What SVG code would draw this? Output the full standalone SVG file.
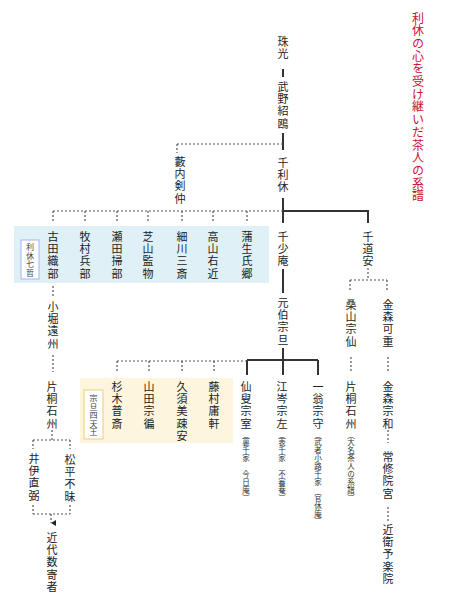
<svg xmlns="http://www.w3.org/2000/svg" width="450" height="600" viewBox="0 0 450 600">
<style>
.v{writing-mode:vertical-rl;font-family:"Noto Sans CJK JP","Noto Sans CJK SC",sans-serif;font-size:11px;fill:#222;letter-spacing:1.4px}
.t{writing-mode:vertical-rl;font-family:"Noto Sans CJK JP",sans-serif;font-size:12px;fill:#c8102e;letter-spacing:0.7px}
.n{writing-mode:vertical-rl;font-family:"Noto Sans CJK JP",sans-serif;font-size:7.5px;fill:#333;letter-spacing:0.4px}
.l{writing-mode:vertical-rl;font-family:"Noto Sans CJK JP",sans-serif;font-size:8px;fill:#444;letter-spacing:0.6px}
.s{stroke:#333;stroke-width:2;fill:none}
.d{stroke:#555;stroke-width:1.2;stroke-dasharray:2 2;fill:none}
</style>
<defs>
<marker id="arr" markerWidth="6" markerHeight="6" refX="3" refY="5" orient="auto-start-reverse" markerUnits="userSpaceOnUse">
<path d="M0,0 L6,0 L3,5 Z" fill="#222"/>
</marker>
</defs>
<rect width="450" height="600" fill="#fff"/>
<g id="title"><text class="t" x="418" y="12">利休の心を受け継いだ茶人の系譜</text></g>
<g id="bg-sevens"><rect x="14" y="226" width="255" height="57" fill="#dff0f6"/>
<rect x="21" y="240" width="18" height="39" fill="#fff" stroke="#a8b4f0" stroke-width="1"/>
<text class="l" x="30" y="243">利休七哲</text></g>
<g id="bg-four"><rect x="80" y="378" width="153" height="65" fill="#fdf5de"/>
<rect x="84" y="390" width="19" height="49" fill="#fff" stroke="#f2d48a" stroke-width="1.2"/>
<text class="l" x="93.5" y="394">宗旦四天王</text></g>
<g id="connectors">
<path class="s" d="M283,69V77 M283,133V150 M283,198V223 M283,211H368V223 M283,269V293 M283,348V375 M247,360H318 M247,360V375 M318,360V375"/>
<path class="d" d="M177,144H283 M177,144V153 M53,211H283 M53,211V221 M85,211V221 M117,211V221 M148,211V221 M182,211V221 M213,211V221 M247,211V221 M368,268V280 M350,280H387 M350,280V291 M387,280V291 M117,361H247 M117,361V373 M149,361V373 M182,361V373 M214,361V373 M53,286V298 M53,355V372 M52,430V440 M33,440H70 M33,440V449 M70,440V449 M33,505V514 M70,505V514 M33,514H70 M351,357V371 M388,357V371 M388,430V443 M388,507V522"/>
<path class="d" d="M51,514V523" marker-end="url(#arr)"/>
</g>
<g id="n-juko"><text class="v" x="283" y="36">珠光</text></g>
<g id="n-jooh"><text class="v" x="283" y="81">武野紹鴎</text></g>
<g id="n-rikyu"><text class="v" x="283" y="157">千利休</text></g>
<g id="n-yabu"><text class="v" x="180" y="156">藪内剣仲</text></g>
<g id="n-furuta"><text class="v" x="53" y="231">古田織部</text></g>
<g id="n-makimura"><text class="v" x="85" y="231">牧村兵部</text></g>
<g id="n-seta"><text class="v" x="117" y="231">瀬田掃部</text></g>
<g id="n-shibayama"><text class="v" x="148" y="231">芝山監物</text></g>
<g id="n-hosokawa"><text class="v" x="182" y="231">細川三斎</text></g>
<g id="n-takayama"><text class="v" x="213" y="231">高山右近</text></g>
<g id="n-gamo"><text class="v" x="247" y="231">蒲生氏郷</text></g>
<g id="n-shoan"><text class="v" x="283" y="231">千少庵</text></g>
<g id="n-doan"><text class="v" x="368" y="231">千道安</text></g>
<g id="n-sotan"><text class="v" x="283" y="297">元伯宗旦</text></g>
<g id="n-kuwayama"><text class="v" x="351" y="299">桑山宗仙</text></g>
<g id="n-kanamori1"><text class="v" x="388" y="299">金森可重</text></g>
<g id="n-kobori"><text class="v" x="53" y="301">小堀遠州</text></g>
<g id="n-katagiri1"><text class="v" x="52" y="381">片桐石州</text></g>
<g id="n-sugiki"><text class="v" x="117" y="381">杉木普斎</text></g>
<g id="n-yamada"><text class="v" x="149" y="381">山田宗徧</text></g>
<g id="n-kusumi"><text class="v" x="182" y="381">久須美疎安</text></g>
<g id="n-fujimura"><text class="v" x="214" y="381">藤村庸軒</text></g>
<g id="n-sensou"><text class="v" x="246" y="381">仙叟宗室</text><text class="n" x="246" y="431">（裏千家　今日庵）</text></g>
<g id="n-kousin"><text class="v" x="282" y="381">江岑宗左</text><text class="n" x="282" y="431">（表千家　不審菴）</text></g>
<g id="n-ichio"><text class="v" x="318" y="381">一翁宗守</text><text class="n" x="318" y="431">（武者小路千家　官休庵）</text></g>
<g id="n-katagiri2"><text class="v" x="351" y="381">片桐石州</text><text class="n" x="351" y="431">（大名茶人の系譜）</text></g>
<g id="n-kanamori2"><text class="v" x="388" y="381">金森宗和</text></g>
<g id="n-joshuin"><text class="v" x="388" y="451">常修院宮</text></g>
<g id="n-konoe"><text class="v" x="388" y="524">近衛予楽院</text></g>
<g id="n-ii"><text class="v" x="34" y="453">井伊直弼</text></g>
<g id="n-matsudaira"><text class="v" x="70" y="454">松平不昧</text></g>
<g id="n-kindai"><text class="v" x="52" y="532">近代数寄者</text></g>
</svg>
